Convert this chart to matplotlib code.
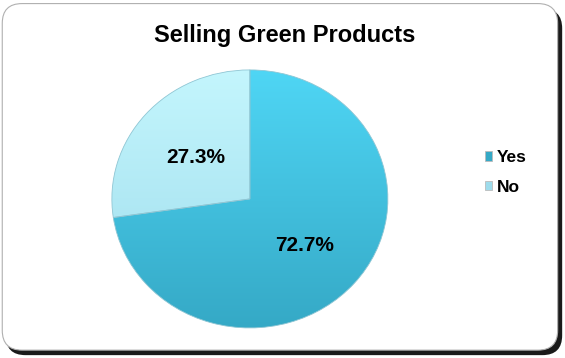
import matplotlib.pyplot as plt
import numpy as np
from matplotlib.patches import FancyBboxPatch
from matplotlib.colors import LinearSegmentedColormap

plt.rcParams['font.family'] = ['Liberation Sans', 'DejaVu Sans']

labels = ['Yes', 'No']
shares = [72.7, 27.3]
top_colors = ['#4fd6f5', '#c4f6fd']
bottom_colors = ['#35a9c6', '#9edcec']

fig = plt.figure(figsize=(5.65, 3.58), dpi=100)

# rounded chart frame with a dark drop shadow
shadow = FancyBboxPatch((0.010, 0.008), 0.985, 0.968, boxstyle='round,pad=0,rounding_size=0.035',
                        transform=fig.transFigure, facecolor='#1a1a1a', edgecolor='none',
                        mutation_aspect=565 / 358, zorder=-2)
frame = FancyBboxPatch((0.004, 0.022), 0.983, 0.968, boxstyle='round,pad=0,rounding_size=0.035',
                       transform=fig.transFigure, facecolor='white', edgecolor='#b0b0b0',
                       linewidth=0.8, mutation_aspect=565 / 358, zorder=-1)
fig.patches.extend([shadow, frame])

fig.text(0.503, 0.9, 'Selling Green Products', ha='center', va='center',
         fontsize=17, fontweight='bold')

ax = fig.add_axes([0.198, 0.084, 0.4885, 0.7207])
wedges, texts = ax.pie(shares, startangle=90, counterclock=False,
                       wedgeprops=dict(edgecolor='#8fc6d4', linewidth=0.6))
ax.set_aspect('auto')
ax.set_xlim(-1, 1)
ax.set_ylim(-1, 1)

grad = np.linspace(0, 1, 256).reshape(-1, 1)
for w, c_top, c_bot in zip(wedges, top_colors, bottom_colors):
    cmap = LinearSegmentedColormap.from_list('w', [c_top, c_bot])
    im = ax.imshow(grad, cmap=cmap, extent=(-1, 1, -1, 1), aspect='auto', zorder=0.5)
    im.set_clip_path(w)
    w.set_facecolor('none')
    w.set_zorder(1)

# percentage labels
for w, s in zip(wedges, shares):
    ang = np.deg2rad((w.theta1 + w.theta2) / 2)
    ax.text(0.52 * np.cos(ang), 0.52 * np.sin(ang) - 0.02, f'{s:.1f}%', ha='center', va='center',
            fontsize=15, fontweight='bold', zorder=3)

leg = fig.legend(handles=wedges, labels=labels, loc='center left',
                 bbox_to_anchor=(0.83, 0.518), frameon=False, handlelength=0.45,
                 handleheight=0.45, handletextpad=0.25, labelspacing=0.85,
                 prop=dict(size=12.5, weight='bold'))
for h, c in zip(leg.legend_handles, bottom_colors):
    h.set_facecolor(c)
    h.set_edgecolor('#bbbbbb')

fig.savefig('out.png', dpi=100)
